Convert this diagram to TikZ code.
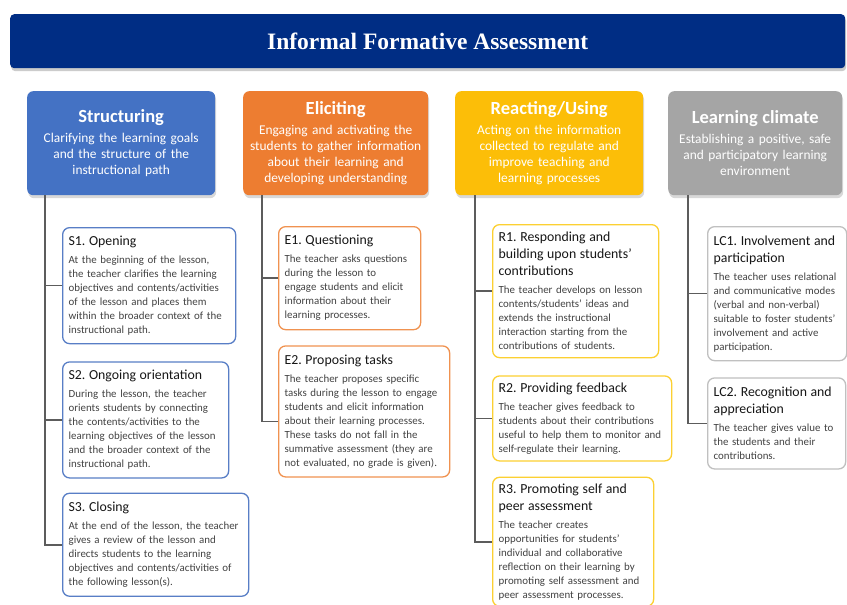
\documentclass[tikz,border=0pt]{standalone}
\usepackage{fontspec}
\setmainfont{Carlito}
\newfontfamily\bannerfont{Liberation Serif}
\usetikzlibrary{positioning,shadows}
\definecolor{bannerblue}{RGB}{0,45,132}
\definecolor{structblue}{RGB}{68,114,196}
\definecolor{elicitorange}{RGB}{237,125,49}
\definecolor{reactgold}{RGB}{252,190,8}
\definecolor{climategray}{RGB}{165,165,165}
\definecolor{borderblue}{RGB}{88,126,198}
\definecolor{borderorange}{RGB}{240,146,80}
\definecolor{bordergold}{RGB}{252,208,50}
\definecolor{bordergray}{RGB}{192,192,192}
\definecolor{bodygray}{RGB}{66,66,66}
\definecolor{ttlgray}{RGB}{22,22,22}
\definecolor{linegray}{RGB}{92,92,92}
\frenchspacing
\newcommand\bodyfont{\fontsize{10.9}{14}\selectfont}
\newcommand\boxttl[1]{{\fontsize{13.8}{17}\selectfont\color{ttlgray}#1\par}\vspace{4pt}}
\newcommand\hdrttl[1]{{\bfseries\fontsize{18.5}{22}\selectfont #1\par}\vspace{4pt}}

\begin{document}
\begin{tikzpicture}[
  x=1pt,y=-1pt,
  every node/.style={font=\bodyfont},
  banner/.style={fill=bannerblue,rounded corners=4pt,anchor=north west,
                 minimum width=835pt,minimum height=54pt,text=white,
                 font=\bannerfont\bfseries\fontsize{23.5}{27}\selectfont,
                 drop shadow={opacity=0.4,shadow xshift=1pt,shadow yshift=-3pt}},
  hdr/.style={rounded corners=6pt,anchor=north west,minimum height=104pt,
              align=center,text=white,inner sep=4pt,
              font=\fontsize{13.4}{16}\selectfont,
              drop shadow={opacity=0.3,shadow xshift=1pt,shadow yshift=-3pt}},
  sub/.style={draw,line width=1.3pt,rounded corners=7pt,fill=white,
              anchor=north west,align=left,inner xsep=6pt,inner ysep=5pt,
              text=bodygray},
  trunk/.style={draw=linegray,line width=1.6pt}
]
\useasboundingbox[fill=white] (0,0) rectangle (847,605);

\node[banner] (title) at (10,14) {Informal Formative Assessment};

% headers
\node[hdr,fill=structblue,text width=180pt] (hS) at (27,91)
  {\hdrttl{Structuring}Clarifying the learning goals\\and the structure of the\\instructional path};
\node[hdr,fill=elicitorange,text width=177pt] (hE) at (243,91)
  {\hdrttl{Eliciting}Engaging and activating the\\students to gather information\\about their learning and\\developing understanding};
\node[hdr,fill=reactgold,text width=180pt] (hR) at (455,91)
  {\hdrttl{Reacting/Using}Acting on the information\\collected to regulate and\\improve teaching and\\learning processes};
\node[hdr,fill=climategray,text width=166pt] (hL) at (668,91)
  {\hdrttl{Learning climate}Establishing a positive, safe\\and participatory learning\\environment};

% structuring
\node[sub,draw=borderblue,text width=161pt,minimum height=116pt] (S1) at (62,227)
  {\boxttl{S1. Opening}At the beginning of the lesson,\\the teacher clarifies the learning\\objectives and contents/activities\\of the lesson and places them\\within the broader context of the\\instructional path.};
\node[sub,draw=borderblue,text width=154pt,minimum height=116pt,
      below=17pt of S1.south west,anchor=north west] (S2)
  {\boxttl{S2. Ongoing orientation}During the lesson, the teacher\\orients students by connecting\\the contents/activities to the\\learning objectives of the lesson\\and the broader context of the\\instructional path.};
\node[sub,draw=borderblue,text width=174pt,minimum height=103pt,
      below=14pt of S2.south west,anchor=north west] (S3)
  {\boxttl{S3. Closing}At the end of the lesson, the teacher\\gives a review of the lesson and\\directs students to the learning\\objectives and contents/activities of\\the following lesson(s).};

% eliciting
\node[sub,draw=borderorange,text width=130pt,minimum height=103pt] (E1) at (278,226)
  {\boxttl{E1. Questioning}The teacher asks questions\\during the lesson to\\engage students and elicit\\information about their\\learning processes.};
\node[sub,draw=borderorange,text width=159pt,minimum height=131pt,
      below=15pt of E1.south west,anchor=north west] (E2)
  {\boxttl{E2. Proposing tasks}The teacher proposes specific\\tasks during the lesson to engage\\students and elicit information\\about their learning processes.\\These tasks do not fall in the\\summative assessment (they are\\not evaluated, no grade is given).};

% reacting/using
\node[sub,draw=bordergold,text width=154pt,minimum height=133pt] (R1) at (492,224)
  {\boxttl{R1. Responding and\\building upon students'\\contributions}The teacher develops on lesson\\contents/students' ideas and\\extends the instructional\\interaction starting from the\\contributions of students.};
\node[sub,draw=bordergold,text width=167pt,minimum height=85pt,
      below=17pt of R1.south west,anchor=north west] (R2)
  {\boxttl{R2. Providing feedback}The teacher gives feedback to\\students about their contributions\\useful to help them to monitor and\\self-regulate their learning.};
\node[sub,draw=bordergold,text width=149pt,minimum height=129pt,
      below=15pt of R2.south west,anchor=north west] (R3)
  {\boxttl{R3. Promoting self and\\peer assessment}The teacher creates\\opportunities for students'\\individual and collaborative\\reflection on their learning by\\promoting self assessment and\\peer assessment processes.};

% learning climate
\node[sub,draw=bordergray,text width=127pt,minimum height=134pt] (L1) at (707,226)
  {\boxttl{LC1. Involvement and\\participation}The teacher uses relational\\and communicative modes\\(verbal and non-verbal)\\suitable to foster students'\\involvement and active\\participation.};
\node[sub,draw=bordergray,text width=126pt,minimum height=91pt,
      below=16pt of L1.south west,anchor=north west] (L2)
  {\boxttl{LC2. Recognition and\\appreciation}The teacher gives value to\\the students and their\\contributions.};

% trunks
\coordinate (tS) at ([xshift=18pt]hS.south west);
\coordinate (tE) at ([xshift=19pt]hE.south west);
\coordinate (tR) at ([xshift=20pt]hR.south west);
\coordinate (tL) at ([xshift=20pt]hL.south west);
\draw[trunk] (tS) |- (S3.west);
\draw[trunk] (tE) |- ([yshift=-10pt]E2.west);
\draw[trunk] (tR) |- (R3.west);
\draw[trunk] (tL) |- (L2.west);
\foreach \b/\t in {S1/tS,S2/tS,E1/tE,R1/tR,R2/tR,L1/tL}
  \draw[trunk] (\b.west) -- (\b.west -| \t);
\end{tikzpicture}
\end{document}
